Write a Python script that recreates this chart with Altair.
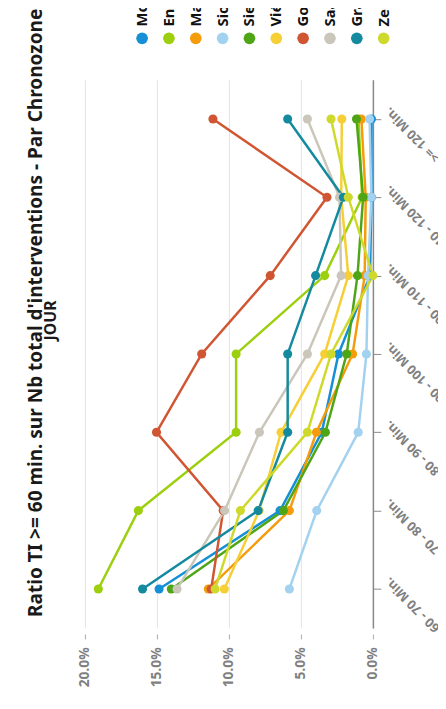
import altair as alt
import pandas as pd

# ---- data -------------------------------------------------------------------
categories = ["60 - 70 Min.", "70 - 80 Min.", "80 - 90 Min.", "90 - 100 Min.",
              "100 - 110 Min.", "110 - 120 Min.", ">= 120 Min."]
series = ["Mo", "En", "Ma", "Sio", "Sie", "Vié", "Go", "Saa", "Grä", "Ze"]
colors = ["#1590d6", "#9ccf0e", "#f59c0c", "#a3d2f0", "#4ea617",
          "#f6cf36", "#d05532", "#cac6b9", "#148a9e", "#cfd92b"]

mo = [14.85, 6.45, 3.55, 2.39, 0.20, 0.10, 0.10]
en = [19.07, 16.29, 9.50, 9.50, 3.35, 0.75, 1.00]
ma = [11.43, 5.80, 3.92, 1.41, 0.57, 0.50, 0.80]
sio = [5.80, 3.90, 1.02, 0.45, 0.34, 0.11, 0.23]
sie = [14.00, 6.22, 3.30, 1.82, 1.07, 0.68, 1.14]
vie = [10.32, 7.90, 6.38, 3.35, 1.71, 2.20, 2.16]
go = [11.23, 10.40, 15.03, 11.89, 7.13, 3.19, 11.11]
saa = [13.60, 10.30, 7.88, 4.55, 2.21, 2.32, 4.55]
gra = [16.00, 7.97, 5.92, 5.92, 3.98, 2.05, 5.92]
ze = [10.96, 9.20, 4.55, 2.91, 0.00, 1.71, 2.91]

value_ticks = [0, 5, 10, 15, 20]
title_line1 = "Ratio TI >= 60 min. sur Nb total d'interventions - Par Chronozone"
title_line2 = "JOUR"

# ---- tables -----------------------------------------------------------------
all_values = [mo, en, ma, sio, sie, vie, go, saa, gra, ze]
rows = []
for s_i, (name, vals) in enumerate(zip(series, all_values)):
    for c_i, (cat, v) in enumerate(zip(categories, vals)):
        rows.append({"series": name, "cat": cat, "order": c_i, "value": v, "sidx": s_i})
df = pd.DataFrame(rows)

leg_df = pd.DataFrame({"series": series, "idx": list(range(len(series))), "row": ["l"] * len(series)})

FONT = "Noto Sans"
color_scale = alt.Scale(domain=series, range=colors)

# ---- main plot ----------------------------------------------------------------
x_enc = alt.X(
    "value:Q",
    scale=alt.Scale(domain=[0, 20], reverse=True, nice=False),
    axis=alt.Axis(
        values=value_ticks, labelExpr="format(datum.value, '.1f') + '%'",
        labelAngle=270, labelAlign="right", labelBaseline="middle",
        domain=False, offset=6, tickSize=5, tickColor="#aaaaaa",
        grid=True, gridColor="#e4e4e4", title=None,
        labelFontSize=14, labelFontWeight="bold", labelColor="#808080",
        labelPadding=8, labelFont=FONT,
    ),
)
y_enc = alt.Y(
    "cat:O",
    sort=categories[::-1],
    scale=alt.Scale(type="point", padding=0.5),
    axis=alt.Axis(
        orient="right", labelAngle=225, labelAlign="right", labelBaseline="middle",
        domainColor="#888888", tickColor="#888888", tickSize=8, domainWidth=1.5,
        labelFontSize=13, labelFontWeight="bold", labelColor="#808080",
        labelFont=FONT, title=None, grid=False, labelPadding=6, labelOffset=-10,
    ),
)
color_enc = alt.Color("series:N", scale=color_scale, legend=None)

base = alt.Chart(df).encode(x=x_enc, y=y_enc, color=color_enc)
lines = base.mark_line(strokeWidth=2.5).encode(order="order:Q", detail="series:N")
points = base.mark_circle(size=85, opacity=1).encode(order="sidx:Q")
main = alt.layer(lines, points).properties(
    width=292, height=556,
    title=alt.TitleParams(
        title_line2, orient="left", anchor="middle", fontSize=16, fontWeight="bold",
        font=FONT, color="#1a1a1a", offset=19, dx=34,
    ),
)

# ---- legend (drawn through its own scales) ------------------------------------
leg_base = alt.Chart(leg_df).encode(
    x=alt.X("idx:Q", scale=alt.Scale(domain=[-2.13, 8.6], nice=False, zero=False), axis=None),
    y=alt.Y("row:N", axis=None),
)
leg_pts = leg_base.mark_circle(size=140, opacity=1).encode(color=color_enc)
leg_txt = leg_base.mark_text(
    angle=270, align="left", baseline="middle", dx=12, fontSize=15,
    fontWeight="bold", color="#111111", font=FONT,
).encode(text="series:N")
legend = alt.layer(leg_pts, leg_txt).properties(width=292, height=60)

chart = alt.vconcat(legend, main, spacing=12).properties(
    title=alt.TitleParams(
        title_line1, orient="left", anchor="end", frame="group", fontSize=19.3,
        fontWeight="bold", font=FONT, color="#1a1a1a", offset=-3,
    ),
    padding={"top": -13, "left": 19, "right": -15, "bottom": 0},
).configure(font=FONT).configure_view(stroke=None)

chart.save("out.html", embed_options={"renderer": "svg", "actions": False})
